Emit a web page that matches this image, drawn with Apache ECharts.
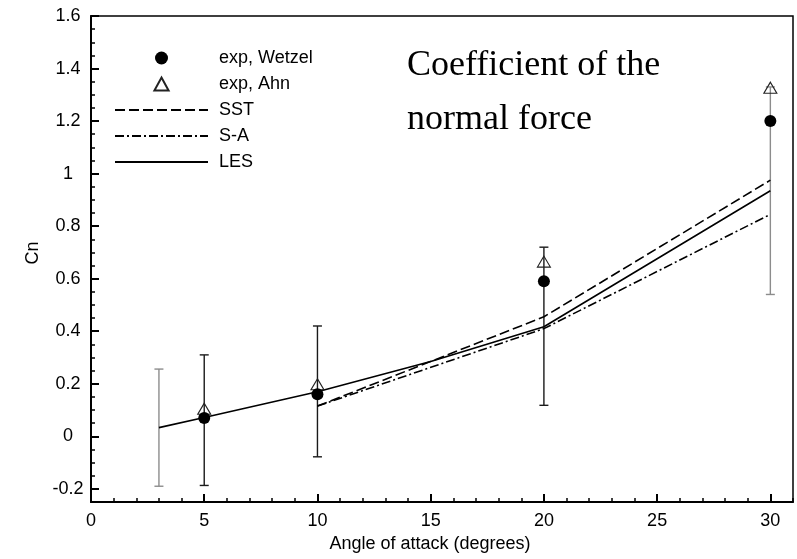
<!DOCTYPE html>
<html>
<head>
<meta charset="utf-8">
<script src="https://cdn.jsdelivr.net/npm/echarts@6/dist/echarts.min.js"></script>
<style>
  html, body { margin: 0; padding: 0; background: #fff; }
  #chart { width: 797px; height: 559px; }
</style>
</head>
<body>
<div id="chart"></div>
<script>
// Experimental normal-force coefficients
const wetzelAlpha = [5, 10, 20, 30];
const wetzelCn = [0.07, 0.16, 0.59, 1.2];
const ahnAlpha = [5, 10, 20, 30];
const ahnCn = [0.105, 0.198, 0.665, 1.327];

// Measurement uncertainty ranges
const errAlphaDark = [5, 10, 20];
const errLowDark = [-0.187, -0.078, 0.118];
const errHighDark = [0.31, 0.42, 0.72];
const errAlphaGrey = [3, 30];
const errLowGrey = [-0.19, 0.54];
const errHighGrey = [0.256, 1.33];

// Computed curves
const sstAlpha = [10, 20, 30];
const sstCn = [0.115, 0.455, 0.975];
const saAlpha = [10, 20, 30];
const saCn = [0.115, 0.41, 0.845];
const lesAlpha = [3, 5, 10, 15, 20, 30];
const lesCn = [0.033, 0.072, 0.17, 0.285, 0.417, 0.935];

// Axis ticks
const xTicks = [0, 5, 10, 15, 20, 25, 30];
const yTicks = [-0.2, 0, 0.2, 0.4, 0.6, 0.8, 1, 1.2, 1.4, 1.6];

const pairs = (xs, ys) => xs.map((x, i) => [x, ys[i]]);
const triples = (xs, lo, hi) => xs.map((x, i) => [x, lo[i], hi[i]]);

const SANS = 'Liberation Sans, Arial, Helvetica, sans-serif';
const SERIF = 'Liberation Serif, Times New Roman, serif';
const TRIANGLE = 'path://M6,0L12,11L0,11Z';

function errorBars(color) {
  return function (params, api) {
    const x = api.value(0);
    const lo = api.coord([x, api.value(1)]);
    const hi = api.coord([x, api.value(2)]);
    const hw = 4.5;
    const style = { stroke: color, lineWidth: 1.4, fill: null };
    return {
      type: 'group',
      children: [
        { type: 'line', shape: { x1: lo[0], y1: lo[1], x2: hi[0], y2: hi[1] }, style },
        { type: 'line', shape: { x1: lo[0] - hw, y1: lo[1], x2: lo[0] + hw, y2: lo[1] }, style },
        { type: 'line', shape: { x1: hi[0] - hw, y1: hi[1], x2: hi[0] + hw, y2: hi[1] }, style }
      ]
    };
  };
}

const chart = echarts.init(document.getElementById('chart'), null, { renderer: 'canvas' });

const hideSymbol = { opacity: 0 };

chart.setOption({
  backgroundColor: '#fff',
  animation: false,
  title: {
    text: 'Coefficient of the\nnormal force',
    left: 407,
    top: 39,
    padding: 0,
    textStyle: { fontFamily: SERIF, fontSize: 36, fontWeight: 'normal', color: '#000', lineHeight: 54 }
  },
  legend: {
    orient: 'vertical',
    left: 114,
    top: 49,
    padding: 0,
    itemWidth: 93,
    itemHeight: 13,
    itemGap: 8,
    symbolKeepAspect: true,
    textStyle: { fontFamily: SANS, fontSize: 18, color: '#000', padding: [0, 0, 0, 6] },
    data: [
      { name: 'exp, Wetzel' },
      { name: 'exp, Ahn', icon: TRIANGLE },
      { name: 'SST', itemStyle: hideSymbol },
      { name: 'S-A', itemStyle: hideSymbol },
      { name: 'LES', itemStyle: hideSymbol }
    ]
  },
  grid: {
    left: 91, right: 4, top: 16, bottom: 57,
    show: true, borderColor: '#000', borderWidth: 1.5, backgroundColor: 'transparent'
  },
  xAxis: [
    {
      type: 'value', min: 0, max: 31, interval: 5, position: 'bottom',
      name: 'Angle of attack (degrees)', nameLocation: 'middle', nameGap: 32,
      nameTextStyle: { fontFamily: SANS, fontSize: 18, color: '#000', padding: [0, 24, 0, 0] },
      axisLine: { show: true, onZero: false, lineStyle: { color: '#000', width: 2 } },
      axisTick: { show: true, inside: true, length: 8, customValues: xTicks, lineStyle: { color: '#000', width: 2 } },
      axisLabel: { customValues: xTicks, margin: 10, fontFamily: SANS, fontSize: 18, color: '#000' },
      splitLine: { show: false }
    },
    {
      type: 'value', min: 0, max: 31, interval: 1, position: 'bottom',
      axisLine: { show: false, onZero: false },
      axisTick: { show: true, inside: true, length: 4, lineStyle: { color: '#000', width: 1.5 } },
      axisLabel: { show: false },
      splitLine: { show: false }
    }
  ],
  yAxis: [
    {
      type: 'value', min: -0.25, max: 1.6, position: 'left',
      name: 'Cn', nameLocation: 'middle', nameGap: 46, nameRotate: 90,
      nameTextStyle: { fontFamily: SANS, fontSize: 18, color: '#000', padding: [0, 0, 0, 12] },
      axisLine: { show: true, onZero: false, lineStyle: { color: '#000', width: 2 } },
      axisTick: { show: true, inside: true, length: 8, customValues: yTicks, lineStyle: { color: '#000', width: 2 } },
      axisLabel: { customValues: yTicks, margin: 23, align: 'center', fontFamily: SANS, fontSize: 18, color: '#000' },
      splitLine: { show: false }
    },
    {
      type: 'value', min: -0.25, max: 1.6, interval: 0.05, position: 'left',
      axisLine: { show: false, onZero: false },
      axisTick: { show: true, inside: true, length: 4, lineStyle: { color: '#000', width: 1.5 } },
      axisLabel: { show: false },
      splitLine: { show: false }
    }
  ],
  series: [
    {
      name: 'errGrey', type: 'custom', renderItem: errorBars('#8c8c8c'),
      encode: { x: 0, y: [1, 2] }, data: triples(errAlphaGrey, errLowGrey, errHighGrey), z: 1
    },
    {
      name: 'errDark', type: 'custom', renderItem: errorBars('#1a1a1a'),
      encode: { x: 0, y: [1, 2] }, data: triples(errAlphaDark, errLowDark, errHighDark), z: 1
    },
    {
      name: 'SST', type: 'line', symbol: 'none', data: pairs(sstAlpha, sstCn), z: 2,
      lineStyle: { color: '#000', width: 1.6, type: [10, 4] }, itemStyle: { color: '#000' }
    },
    {
      name: 'S-A', type: 'line', symbol: 'none', data: pairs(saAlpha, saCn), z: 2,
      lineStyle: { color: '#000', width: 1.6, type: [9, 3, 2, 3] }, itemStyle: { color: '#000' }
    },
    {
      name: 'LES', type: 'line', symbol: 'none', data: pairs(lesAlpha, lesCn), z: 2,
      lineStyle: { color: '#000', width: 1.6, type: 'solid' }, itemStyle: { color: '#000' }
    },
    {
      name: 'exp, Ahn', type: 'scatter', symbol: 'triangle', symbolSize: [13, 11],
      data: pairs(ahnAlpha, ahnCn), z: 3,
      itemStyle: { color: 'rgba(255,255,255,0)', borderColor: '#222', borderWidth: 1.1, opacity: 1 }
    },
    {
      name: 'exp, Wetzel', type: 'scatter', symbol: 'circle', symbolSize: 12,
      data: pairs(wetzelAlpha, wetzelCn), z: 4,
      itemStyle: { color: '#000', opacity: 1 }
    }
  ]
});
</script>
</body>
</html>
